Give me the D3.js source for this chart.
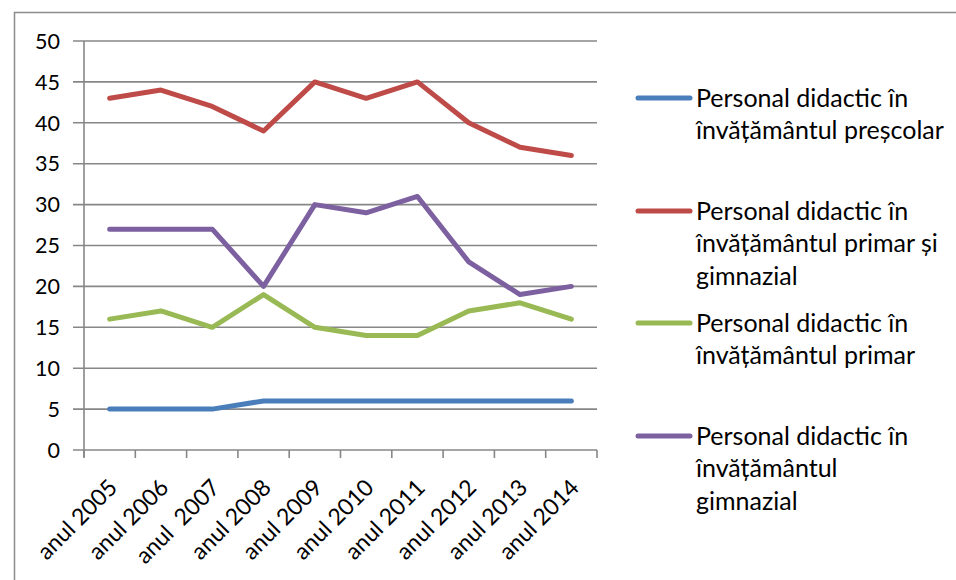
<!DOCTYPE html>
<html><head><meta charset="utf-8">
<script src="https://cdn.jsdelivr.net/npm/d3@7"></script>
<style>body{margin:0;background:#fff}svg{display:block}</style>
</head><body>
<script>
const categories = ["anul 2005","anul 2006","anul  2007","anul 2008","anul 2009","anul 2010","anul 2011","anul 2012","anul 2013","anul 2014"];
const prescolar = [5,5,5,6,6,6,6,6,6,6];
const primarGimnazial = [43,44,42,39,45,43,45,40,37,36];
const primar = [16,17,15,19,15,14,14,17,18,16];
const gimnazial = [27,27,27,20,30,29,31,23,19,20];
const yTicks = [0,5,10,15,20,25,30,35,40,45,50];
const seriesNames = [
  ["Personal didactic în","învățământul preșcolar"],
  ["Personal didactic în","învățământul primar și","gimnazial"],
  ["Personal didactic în","învățământul primar"],
  ["Personal didactic în","învățământul","gimnazial"]
];
const colors = ["#4A7EBB","#BE4B48","#98B954","#7D60A0"];
const seriesData = [prescolar, primarGimnazial, primar, gimnazial];

const W = 956, H = 580;
const font = "Lato, 'Open Sans', sans-serif";
const svg = d3.select("body").append("svg").attr("width", W).attr("height", H);

svg.append("rect").attr("x",14.5).attr("y",12.5).attr("width",W).attr("height",H)
  .attr("fill","none").attr("stroke","#8c8c8c").attr("stroke-width",1.5);

const x0 = 84, x1 = 597, yTop = 41, yBot = 450;
const x = d3.scaleBand().domain(categories).range([x0, x1]);
const y = d3.scaleLinear().domain([0,50]).range([yBot, yTop]);

// gridlines
svg.append("g").selectAll("line").data(yTicks).join("line")
  .attr("x1", x0-11).attr("x2", x1).attr("y1", d=>y(d)).attr("y2", d=>y(d))
  .attr("stroke","#878787").attr("stroke-width",1.6);
// y axis line
svg.append("line").attr("x1",x0).attr("x2",x0).attr("y1",yTop).attr("y2",yBot+7)
  .attr("stroke","#878787").attr("stroke-width",1.6);
// x ticks at band boundaries
const bounds = categories.map(c=>x(c)).concat([x1]);
svg.append("g").selectAll("line").data(bounds).join("line")
  .attr("x1",d=>d).attr("x2",d=>d).attr("y1",yBot).attr("y2",yBot+8)
  .attr("stroke","#878787").attr("stroke-width",1.6);

// y labels
svg.append("g").selectAll("text").data(yTicks).join("text")
  .attr("x", 60).attr("y", d=>y(d)).attr("dy","0.36em").attr("text-anchor","end")
  .attr("font-family",font).attr("font-size",21.5).attr("fill","#000").text(d=>d);

// x labels
svg.append("g").selectAll("text").data(categories).join("text")
  .attr("transform", d=>`translate(${x(d)+x.bandwidth()/2+9},${yBot+39}) rotate(-45)`)
  .attr("text-anchor","end")
  .attr("font-family",font).attr("font-size",23).attr("fill","#000")
  .style("white-space","pre").attr("xml:space","preserve").text(d=>d);

const line = d3.line().x((d,i)=>x(categories[i])+x.bandwidth()/2).y(d=>y(d));
svg.append("g").selectAll("path").data(seriesData).join("path")
  .attr("d", line).attr("fill","none").attr("stroke",(d,i)=>colors[i])
  .attr("stroke-width",5).attr("stroke-linecap","round").attr("stroke-linejoin","round");

// legend
const legY = [98, 211, 323, 436];
const lg = svg.append("g");
seriesNames.forEach((lines,i)=>{
  lg.append("line").attr("x1",638).attr("x2",690).attr("y1",legY[i]).attr("y2",legY[i])
    .attr("stroke",colors[i]).attr("stroke-width",5).attr("stroke-linecap","round");
  const t = lg.append("text").attr("x",696).attr("y",legY[i])
    .attr("font-family",font).attr("font-size",25).attr("fill","#000");
  lines.forEach((s,j)=>t.append("tspan").attr("x",696).attr("dy", j===0?"0.34em":"32.5px").text(s));
});
</script>
</body></html>
